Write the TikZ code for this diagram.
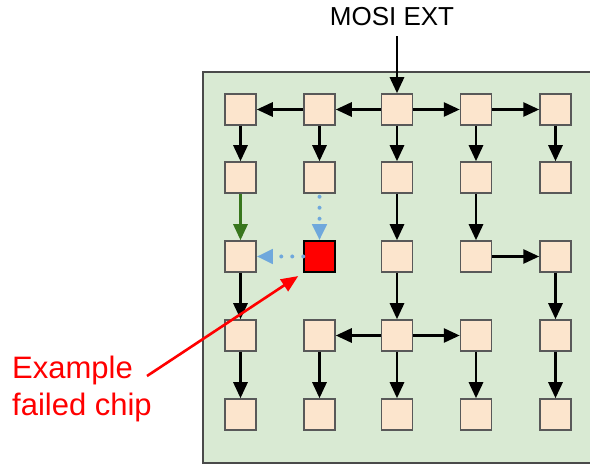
\documentclass[tikz,border=0pt]{standalone}
\usepackage{fontspec}
\setmainfont{Liberation Sans}
\usetikzlibrary{arrows.meta}
\definecolor{panelgreen}{HTML}{D9EAD3}
\definecolor{chipfill}{HTML}{FCE5CD}
\definecolor{chipborder}{HTML}{595959}
\definecolor{okgreen}{HTML}{38761D}
\definecolor{reroute}{HTML}{6FA8DC}
\definecolor{panelborder}{HTML}{4A4A4A}
\begin{document}
\begin{tikzpicture}[x=1pt,y=-1pt,
  chipbox/.style={draw=chipborder, fill=chipfill, line width=1.5pt, minimum size=31pt, inner sep=0pt},
  failbox/.style={draw=black, fill=red, line width=1.5pt, minimum size=31pt, inner sep=0pt},
  link/.style={line width=2.8pt, -{Triangle[length=16pt,width=14pt]}},
  greenlink/.style={link, draw=okgreen, fill=okgreen},
  dotlink/.style={draw=reroute, line width=4pt, line cap=round, dash pattern=on 0pt off 11pt,
     -{Triangle[length=16pt,width=14pt,fill=reroute,line cap=butt]}},
  redarrow/.style={draw=red, line width=2.6pt, -{Triangle[length=17pt,width=14pt,fill=red]}}]
\useasboundingbox (0,0) rectangle (590,465);
% panel
\fill[panelgreen] (203,72) rectangle (600,463);
\draw[panelborder, line width=2pt] (600,72) -- (203,72) -- (203,463) -- (600,463);
% chips
\foreach \r/\y in {1/109.5,2/177.5,3/256.5,4/335.5,5/414.5}
  \foreach \c/\x in {1/240.5,2/319.5,3/397,4/476,5/555.5}{
    \ifnum\r\c=32
      \node[failbox] (b\r\c) at (\x,\y) {};
    \else
      \node[chipbox] (b\r\c) at (\x,\y) {};
    \fi
  }
% input
\node[font=\fontsize{26}{30}\selectfont, inner sep=0pt] (mosi) at (392,17) {MOSI EXT};
\draw[link, shorten <=10pt] (b13.north |- mosi.south) -- (b13.north);
% row 1
\draw[link] (b13) -- (b12);
\draw[link] (b12) -- (b11);
\draw[link] (b13) -- (b14);
\draw[link] (b14) -- (b15);
\foreach \c in {1,...,5} \draw[link] (b1\c) -- (b2\c);
% row 2 -> 3
\draw[greenlink] (b21) -- (b31);
\draw[dotlink, shorten <=3pt] (b22) -- (b32);
\draw[link] (b23) -- (b33);
\draw[link] (b24) -- (b34);
% row 3
\draw[dotlink] (b32) -- (b31);
\draw[link] (b34) -- (b35);
\draw[link] (b31) -- (b41);
\draw[link] (b33) -- (b43);
\draw[link] (b35) -- (b45);
% row 4
\draw[link] (b43) -- (b42);
\draw[link] (b43) -- (b44);
\foreach \c in {1,...,5} \draw[link] (b4\c) -- (b5\c);
% label
\node[text=red, font=\fontsize{31}{37}\selectfont, align=left, anchor=north west, inner sep=0pt] (lbl) at (12,356) {Example\\failed chip};
\coordinate (ptr) at (147,376);
\draw[redarrow, shorten >=6pt] (ptr) -- (b32.south west);
\end{tikzpicture}
\end{document}
